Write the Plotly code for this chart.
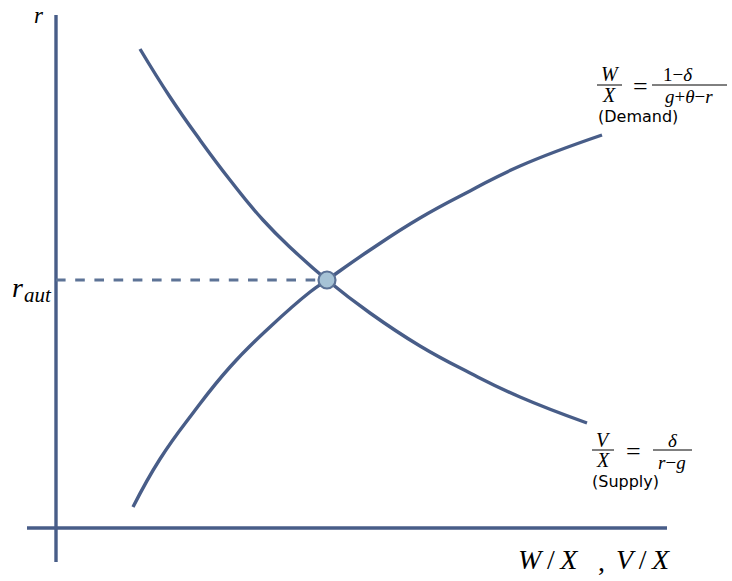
import plotly.graph_objects as go

# Data (in chart units: W/X on x, r on y)
demand_x = [0.84, 1.14, 1.44, 1.74, 2.07, 2.37, 2.71, 3.14, 3.64, 4.14, 4.64, 5.31]
demand_y = [4.79, 4.31, 3.88, 3.48, 3.08, 2.78, 2.48, 2.15, 1.82, 1.55, 1.31, 1.05]
supply_x = [0.77, 1.04, 1.37, 1.74, 2.14, 2.54, 2.71, 3.14, 3.64, 4.14, 4.64, 5.46]
supply_y = [0.21, 0.69, 1.15, 1.61, 2.01, 2.36, 2.48, 2.78, 3.10, 3.37, 3.62, 3.93]
eq_x = [2.71]
eq_y = [2.48]

W, H = 732, 581
X0, Y0, S = 56, 528, 100.0  # pixel origin & scale for layout helpers


def ux(p):
    return (p - X0) / S


def uy(p):
    return (Y0 - p) / S


LINE = "#485d88"
DASH = "#5d7396"
MATH = "Liberation Serif"
TXT = "DejaVu Sans"

fig = go.Figure()

fig.add_trace(go.Scatter(x=[0, eq_x[0] - 0.09], y=[eq_y[0], eq_y[0]], mode="lines",
                         line=dict(color=DASH, width=3.2, dash="dash"), hoverinfo="skip"))
fig.add_trace(go.Scatter(x=demand_x, y=demand_y, mode="lines",
                         line=dict(color=LINE, width=3.4, shape="spline", smoothing=1.3), hoverinfo="skip"))
fig.add_trace(go.Scatter(x=supply_x, y=supply_y, mode="lines",
                         line=dict(color=LINE, width=3.4, shape="spline", smoothing=1.3), hoverinfo="skip"))
fig.add_trace(go.Scatter(x=eq_x, y=eq_y, mode="markers",
                         marker=dict(size=17, color="#a6c3d6", line=dict(color="#5b7296", width=2.2)),
                         hoverinfo="skip"))

shapes = [
    dict(type="line", x0=0, x1=0, y0=uy(562), y1=uy(15), line=dict(color=LINE, width=3.4), layer="below"),
    dict(type="line", x0=ux(27), x1=ux(667), y0=0, y1=0, line=dict(color=LINE, width=3.4), layer="below"),
    dict(type="line", x0=ux(597), x1=ux(622), y0=uy(85), y1=uy(85), line=dict(color="black", width=1)),
    dict(type="line", x0=ux(652), x1=ux(727), y0=uy(85), y1=uy(85), line=dict(color="black", width=1)),
    dict(type="line", x0=ux(592), x1=ux(614), y0=uy(450), y1=uy(450), line=dict(color="black", width=1)),
    dict(type="line", x0=ux(653), x1=ux(692), y0=uy(450), y1=uy(450), line=dict(color="black", width=1)),
]


def ann(text, xp, yp, size, family=MATH, xanchor="center"):
    return dict(text=text, x=ux(xp), y=uy(yp), xref="x", yref="y", showarrow=False,
                font=dict(family=family, size=size, color="black"), xanchor=xanchor, yanchor="middle")


annotations = [
    ann("<i>r</i>", 39, 15, 23),
    ann("<i>r</i>", 10, 287, 28, xanchor="left"),
    ann("<i>aut</i>", 22, 295, 21, xanchor="left"),
    ann("<i>W</i>\u2009/\u2009<i>X</i>", 516, 559, 28, xanchor="left"),
    ann(",", 601, 561, 28),
    ann("<i>V</i>\u2009/\u2009<i>X</i>", 614, 559, 28, xanchor="left"),
    ann("<i>W</i>", 610, 74, 20),
    ann("<i>X</i>", 609, 95, 20),
    ann("=", 640, 86, 26),
    ann("1−<i>δ</i>", 678, 74, 19),
    ann("<i>g</i>+<i>θ</i>−<i>r</i>", 689, 96, 19),
    ann("(Demand)", 596, 116, 16, family=TXT, xanchor="left"),
    ann("<i>V</i>", 603, 440, 20),
    ann("<i>X</i>", 603, 460, 20),
    ann("=", 633, 451, 26),
    ann("<i>δ</i>", 673, 440, 19),
    ann("<i>r</i>−<i>g</i>", 672, 462, 19),
    ann("(Supply)", 590, 481, 16, family=TXT, xanchor="left"),
]

fig.update_layout(
    width=W, height=H, margin=dict(l=0, r=0, t=0, b=0),
    paper_bgcolor="white", plot_bgcolor="white", showlegend=False,
    xaxis=dict(range=[ux(0), ux(W)], visible=False, fixedrange=True),
    yaxis=dict(range=[uy(H), uy(0)], visible=False, fixedrange=True),
    shapes=shapes, annotations=annotations,
)

fig.write_html("out.html", config={"displayModeBar": False},
               post_script="document.body.style.margin='0';document.body.style.overflow='hidden';")
